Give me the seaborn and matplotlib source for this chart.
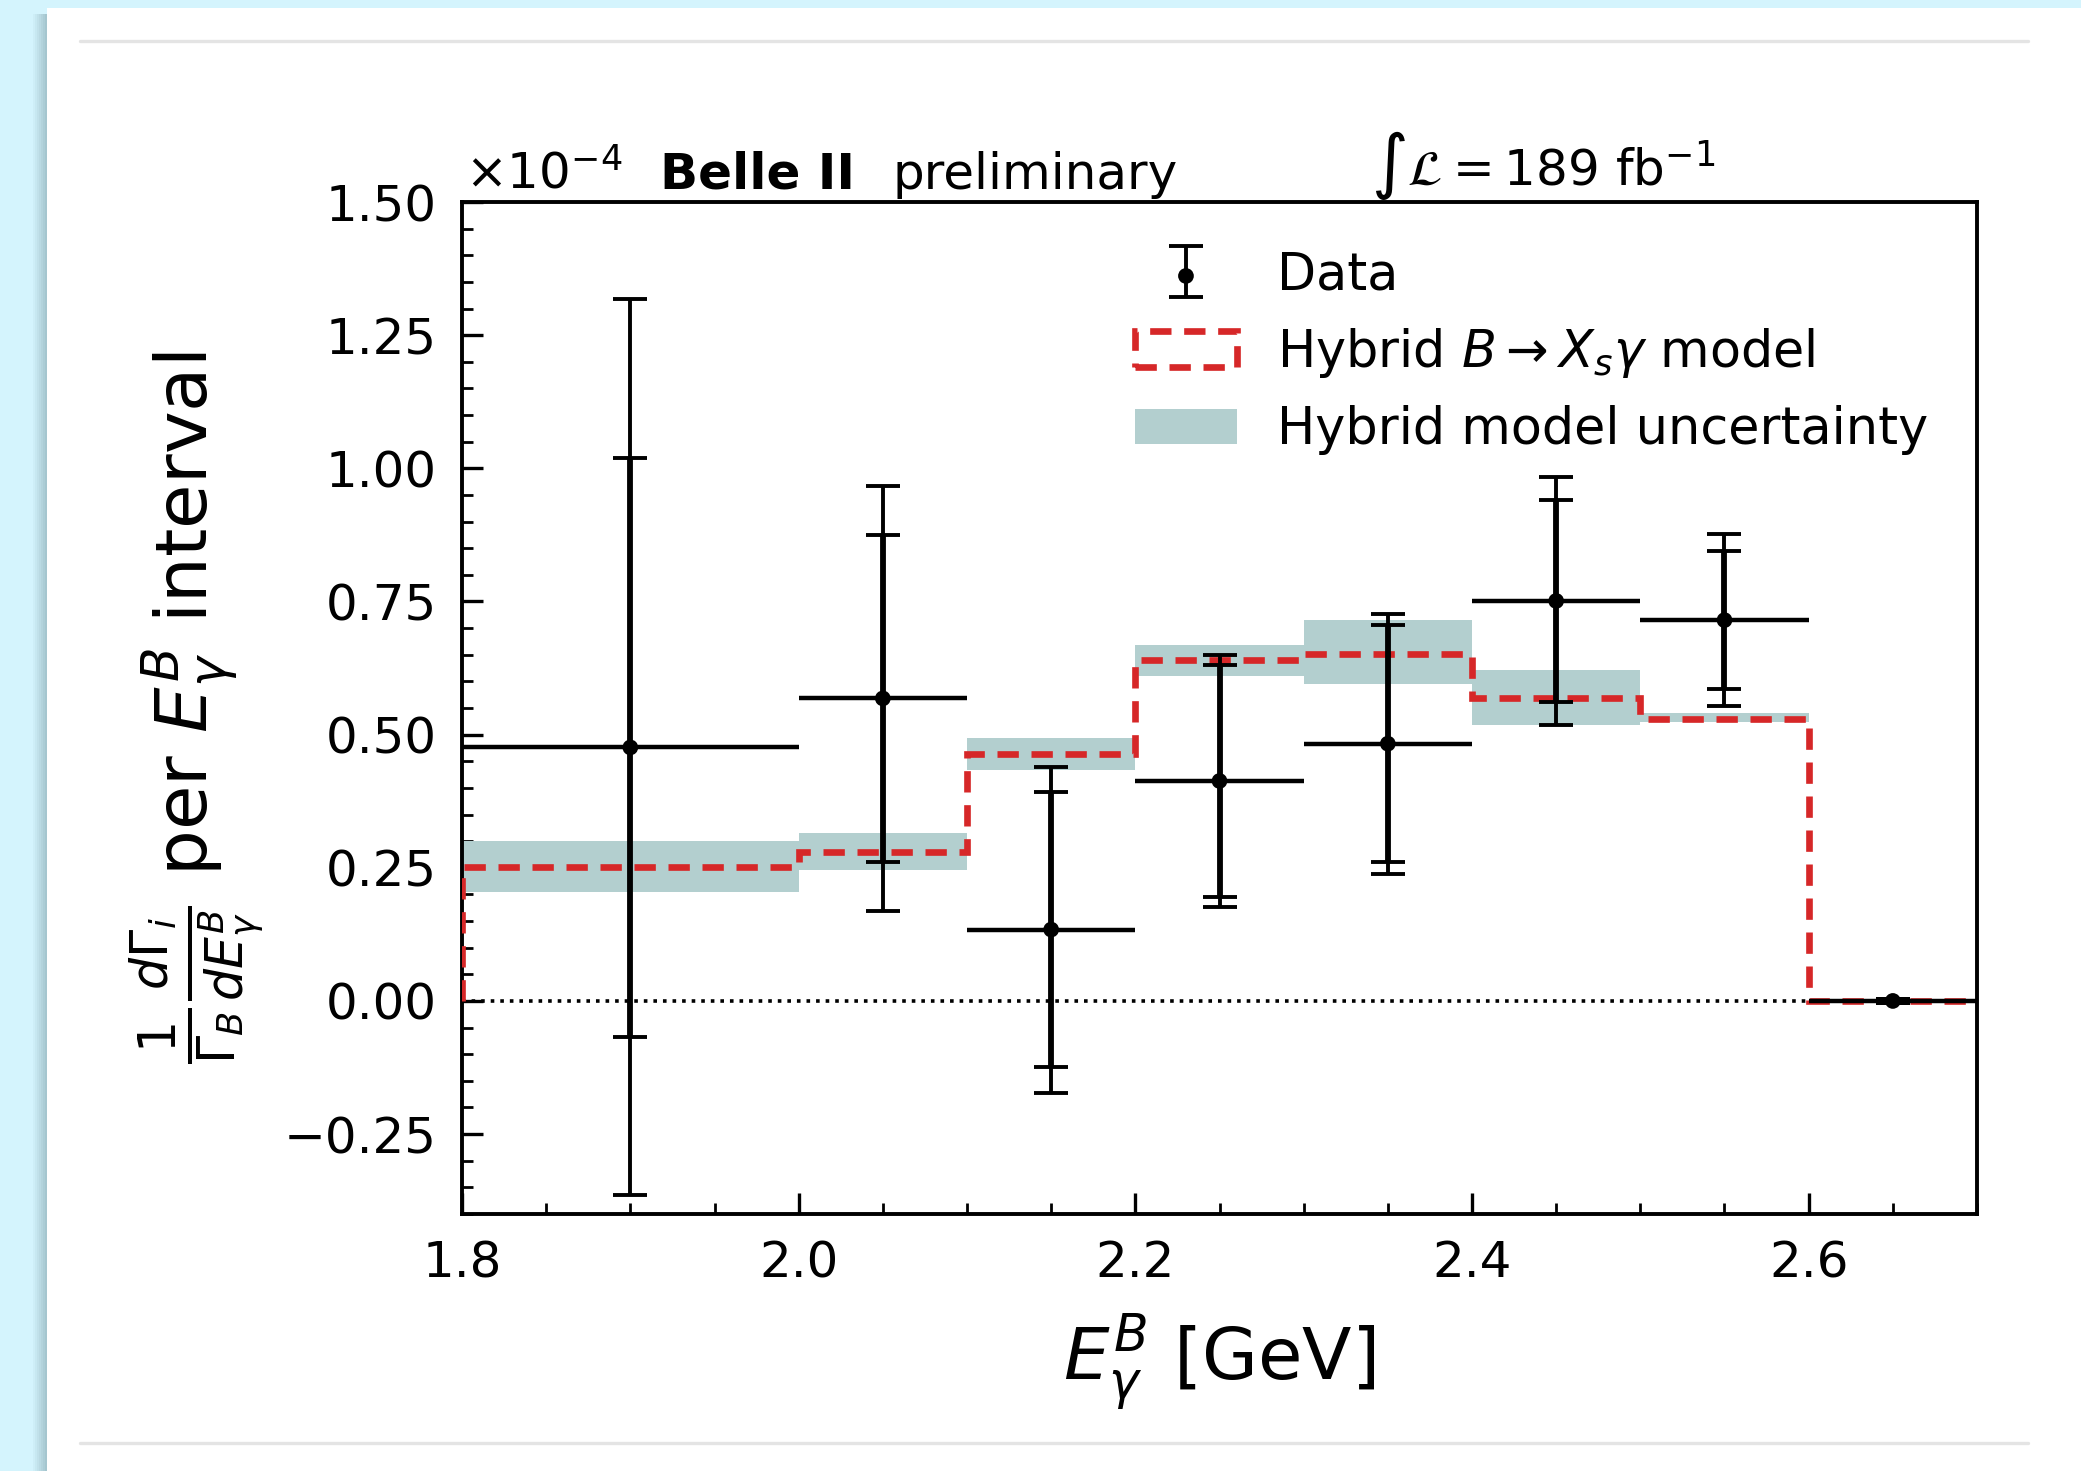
import numpy as np
import matplotlib
matplotlib.use('Agg')
import matplotlib.pyplot as plt
from matplotlib.patches import Rectangle
from matplotlib.lines import Line2D
from matplotlib.ticker import MultipleLocator, FuncFormatter
import seaborn as sns

##################
#Data (x 1e-4)####
##################

bin_edges = [1.8, 2.0, 2.1, 2.2, 2.3, 2.4, 2.5, 2.6, 2.7]

data_x = [1.9, 2.05, 2.15, 2.25, 2.35, 2.45, 2.55, 2.65]
data_xerr = [0.1, 0.05, 0.05, 0.05, 0.05, 0.05, 0.05, 0.05]
data_y = [0.476, 0.568, 0.134, 0.413, 0.483, 0.751, 0.715, 0.0]
data_err_inner = [0.544, 0.307, 0.258, 0.218, 0.222, 0.190, 0.130, 0.003]
data_err_total = [0.841, 0.399, 0.306, 0.237, 0.244, 0.233, 0.162, 0.004]

model_y = [0.252, 0.280, 0.463, 0.641, 0.652, 0.568, 0.530, 0.0]
model_lo = [0.205, 0.246, 0.434, 0.611, 0.595, 0.519, 0.523, 0.0]
model_hi = [0.300, 0.316, 0.494, 0.668, 0.715, 0.622, 0.541, 0.0]

red = '#d62728'
band_col = '#b3cfcf'
dash = (0, (3.2, 1.9))

##################
#Style############
##################

sns.set_style('ticks')
plt.rcParams['font.family'] = ['DejaVu Sans']
plt.rcParams['mathtext.fontset'] = 'dejavusans'
for k in ['text.color', 'axes.labelcolor', 'xtick.color', 'ytick.color', 'axes.edgecolor']:
    plt.rcParams[k] = 'black'

W, H, DPI = 2081, 1471, 200
fig = plt.figure(figsize=(W / DPI, H / DPI), dpi=DPI)
fig.patch.set_facecolor('#d4f4fd')

# slide card + shadow
for i, a in enumerate(np.linspace(0.05, 0.45, 7)):
    fig.add_artist(Rectangle(((33 + i * 2) / W, 0), 2 / W, 1 - 14 / H,
                             transform=fig.transFigure, color='#6d8f98',
                             alpha=a, lw=0, zorder=-3))
fig.add_artist(Rectangle((47 / W, 0), 1, 1 - 8 / H, transform=fig.transFigure,
                         facecolor='white', lw=0, zorder=-2))
for yy in [1 - 41 / H, 1 - 1443 / H]:
    fig.add_artist(Line2D([80 / W, 2028 / W], [yy, yy], transform=fig.transFigure,
                          color='#e4e4e4', lw=1.2, zorder=-1))

ax = fig.add_axes([462 / W, 1 - 1214 / H, (1977 - 462) / W, (1214 - 202) / H])

##################
#Plot#############
##################

band = ax.stairs(model_hi, bin_edges, baseline=model_lo, fill=True,
                 color=band_col, lw=0, zorder=1, label='Hybrid model uncertainty')

ax.axhline(0, color='black', ls=':', lw=1.3, zorder=2)

_, _, model_patch = ax.hist(data_x, bins=bin_edges, weights=model_y,
                            histtype='step', color=red, lw=2.4, linestyle=dash,
                            zorder=3, label=r'Hybrid $B \rightarrow X_s\gamma$ model')

ax.errorbar(data_x, data_y, xerr=data_xerr, fmt='none', ecolor='black',
            elinewidth=1.6, zorder=4)
eb_tot = ax.errorbar(data_x, data_y, yerr=data_err_total, fmt='none', ecolor='black',
                     elinewidth=1.4, capsize=6, capthick=1.4, zorder=4)
ax.errorbar(data_x, data_y, yerr=data_err_inner, fmt='none', ecolor='black',
            elinewidth=2.1, capsize=6, capthick=1.4, zorder=4)
sns.scatterplot(x=data_x, y=data_y, ax=ax, color='black', s=32,
                edgecolor='none', zorder=5)
pts_coll = ax.collections[-1]

ax.set_xlim(1.8, 2.7)
ax.set_ylim(-0.4, 1.5)
ax.xaxis.set_major_locator(MultipleLocator(0.2))
ax.xaxis.set_minor_locator(MultipleLocator(0.05))
ax.yaxis.set_major_locator(MultipleLocator(0.25))
ax.yaxis.set_minor_locator(MultipleLocator(0.05))
ax.xaxis.set_major_formatter(FuncFormatter(lambda v, p: f'{v:.1f}'.replace('-', '\u2212')))
ax.yaxis.set_major_formatter(FuncFormatter(lambda v, p: f'{v:.2f}'.replace('-', '\u2212')))
ax.tick_params(which='both', direction='in', top=False, right=False,
               labelsize=18, pad=9)
ax.tick_params(which='major', length=7.5, width=1.2)
ax.tick_params(which='minor', length=4, width=1.0)
for sp in ax.spines.values():
    sp.set_linewidth(1.4)
    sp.set_color('black')

ax.set_xlabel(r'$E_\gamma^B$ [GeV]', fontsize=26, labelpad=9)
ax.set_ylabel(r'$\frac{1}{\Gamma_B}\frac{d\Gamma_i}{dE_\gamma^B}$ per $E_\gamma^B$ interval',
              fontsize=26, labelpad=6)

# header texts
ax.text(0.002, 1.003, r'$\times10^{-4}$', transform=ax.transAxes, fontsize=18,
        ha='left', va='bottom')
ax.text(0.131, 1.003, 'Belle II', transform=ax.transAxes, fontsize=18,
        fontweight='bold', ha='left', va='bottom')
ax.text(0.284, 1.003, 'preliminary', transform=ax.transAxes, fontsize=18,
        ha='left', va='bottom')
ax.text(0.600, 1.0, r'$\int\mathcal{L} = 189$ fb$^{-1}$', transform=ax.transAxes,
        fontsize=18, ha='left', va='bottom')

leg = ax.legend(handles=[(eb_tot, pts_coll), model_patch[0], band],
                labels=['Data', r'Hybrid $B \rightarrow X_s\gamma$ model',
                        'Hybrid model uncertainty'],
                loc='upper right', frameon=False, fontsize=18.3,
                handlelength=2.0, borderaxespad=0.55)

fig.savefig('out.png', dpi=DPI, facecolor=fig.get_facecolor())
